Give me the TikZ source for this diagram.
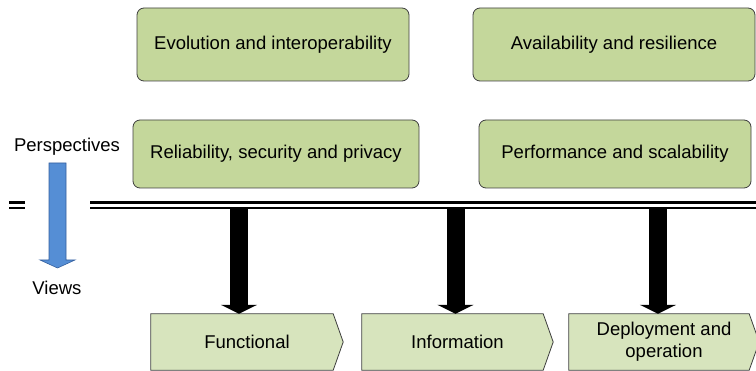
\documentclass[tikz,border=0pt]{standalone}
\usepackage{fontspec}
\setmainfont{Liberation Sans}
\usetikzlibrary{arrows.meta,backgrounds}
\definecolor{boxgreen}{HTML}{C4D79B}
\definecolor{chevgreen}{HTML}{D7E4BD}
\definecolor{edgegray}{HTML}{3F3F3F}
\definecolor{viewblue}{HTML}{558ED5}
\definecolor{viewblueedge}{HTML}{35609E}
\begin{document}
\begin{tikzpicture}[x=1pt,y=-1pt,
  font=\fontsize{18.5}{22}\selectfont,
  persp/.style={draw=edgegray, line width=0.8pt, fill=boxgreen, rounded corners=7pt, align=center, inner sep=0pt},
  viewnode/.style={inner sep=0pt, align=center, minimum height=56pt},
  chev/.style={draw=edgegray, line width=0.8pt, fill=chevgreen},
  bar/.style={line width=18pt, -{Triangle[width=36pt,length=9pt]}},
  ruletop/.style={line width=3.2pt},
  rulebot/.style={line width=2pt},
  label/.style={inner sep=0pt}]
\useasboundingbox (0,0) rectangle (756,371);

% perspective boxes
\node[persp, minimum width=272pt, minimum height=73pt] (evo) at (273,44.5) {Evolution and interoperability};
\node[persp, minimum width=282pt, minimum height=73pt] (ava) at (614,44.5) {Availability and resilience};
\node[persp, minimum width=286pt, minimum height=68pt] (rel) at (276,154) {Reliability, security and privacy};
\node[persp, minimum width=272pt, minimum height=68pt] (per) at (615,154) {Performance and scalability};

% double rule
\coordinate (rl) at (90,202.5);
\coordinate (rr) at (756,202.5);
\coordinate (rl2) at (90,207.8);
\coordinate (rr2) at (756,207.8);
\draw[ruletop] (rl) -- (rr);
\draw[rulebot] (rl2) -- (rr2);
\coordinate (el) at (9,202.5);
\coordinate (er) at (25,202.5);
\coordinate (el2) at (9,207.8);
\coordinate (er2) at (25,207.8);
\draw[ruletop] (el) -- (er);
\draw[rulebot] (el2) -- (er2);

% views (chevrons)
\node[viewnode, minimum width=192pt] (fun) at (247,342) {Functional};
\node[viewnode, minimum width=191pt] (inf) at (457.5,342) {Information};
\node[viewnode, minimum width=190pt] (dep) at (664,342) {Deployment and\\operation};
\begin{scope}[on background layer]
\foreach \n in {fun,inf,dep}{
  \draw[chev] (\n.north west) -- ([xshift=-10pt]\n.north east) -- (\n.east)
     -- ([xshift=-10pt]\n.south east) -- (\n.south west) -- cycle;
}
\end{scope}

% black arrows from the rule to the views
\coordinate (t1) at (239,209);
\coordinate (t2) at (455.5,209);
\coordinate (t3) at (658,209);
\draw[bar] (t1) -- (t1 |- fun.north);
\draw[bar] (t2) -- (t2 |- inf.north);
\draw[bar] (t3) -- (t3 |- dep.north);

% perspectives -> views
\node[label] (plab) at (67,147) {Perspectives};
\node[label] (vlab) at (57,288) {Views};
\draw[fill=viewblue, draw=viewblueedge, line width=0.6pt]
  (49,163) -- (66,163) -- (66,260) -- (75,260) -- (57.5,268) -- (40,260) -- (49,260) -- cycle;
\end{tikzpicture}
\end{document}
